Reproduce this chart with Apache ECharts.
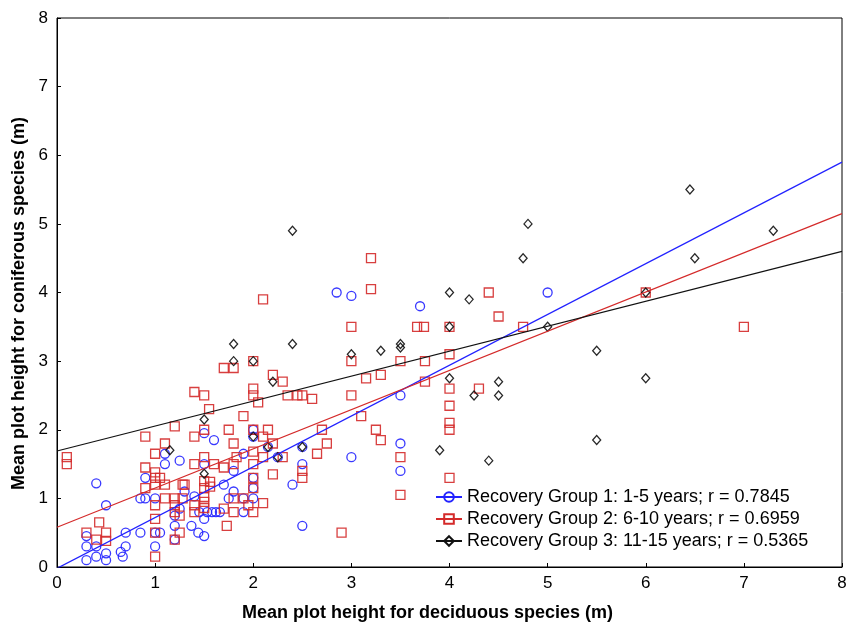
<!DOCTYPE html>
<html>
<head>
<meta charset="utf-8" />
<title>Recovery groups</title>
<style>
  html, body, #chart { margin: 0; width: 846px; height: 625px; overflow: hidden; background: #fff; }
</style>
</head>
<body>
<div id="chart"></div>
<script src="https://cdn.jsdelivr.net/npm/echarts@6/dist/echarts.min.js"></script>
<script>
// series names
var names = [
  'Recovery Group 1: 1-5 years; r = 0.7845',
  'Recovery Group 2: 6-10 years; r = 0.6959',
  'Recovery Group 3: 11-15 years; r = 0.5365'
];
// regression lines: [x, y] at both ends of the axis
var fit1 = [[0, -0.02], [8, 5.9]];
var fit2 = [[0, 0.58], [8, 5.15]];
var fit3 = [[0, 1.69], [8, 4.6]];

// group 1 (1-5 years)
var group1 = [
  [0.3,0.1],[0.3,0.3],[0.3,0.45],[0.4,0.15],[0.4,0.3],[0.4,1.22],[0.5,0.1],[0.5,0.2],
  [0.5,0.9],[0.65,0.22],[0.67,0.15],[0.7,0.3],[0.7,0.5],[0.85,0.5],[0.85,1.0],[0.9,1.0],
  [0.9,1.3],[1.0,1.0],[1.0,0.3],[1.0,0.5],[1.05,0.5],[1.1,1.5],[1.1,1.65],[1.2,0.75],
  [1.2,0.6],[1.2,0.4],[1.3,1.1],[1.4,1.03],[1.25,0.85],[1.37,0.6],[1.44,0.5],[1.5,0.45],
  [1.5,0.7],[1.45,0.8],[1.53,0.8],[1.58,0.8],[1.62,0.8],[1.66,0.8],[1.7,1.2],[1.8,1.4],
  [1.8,1.1],[1.75,1.0],[1.9,1.0],[1.9,0.8],[2.0,1.0],[2.0,1.3],[2.0,1.15],[2.4,1.2],
  [2.5,0.6],[2.5,1.5],[1.5,1.95],[1.6,1.85],[1.9,1.65],[2.0,2.0],[2.0,1.9],[2.15,1.75],
  [2.25,1.6],[2.5,1.75],[3.0,1.6],[3.5,1.8],[3.5,1.4],[3.5,2.5],[2.85,4.0],[3.0,3.95],
  [3.7,3.8],[5.0,4.0],[1.5,1.5],[1.25,1.55]
];
// group 2 (6-10 years)
var group2 = [
  [0.1,1.6],[0.1,1.5],[0.3,0.5],[0.4,0.4],[0.43,0.65],[0.5,0.5],[0.5,0.38],
  [0.9,1.9],[0.9,1.45],[0.9,1.15],[1.0,1.65],[1.0,1.38],[1.0,1.3],[1.05,1.3],[1.0,1.2],
  [1.1,1.2],[1.0,0.9],[1.0,0.7],[1.0,0.5],[1.0,0.15],[1.1,1.0],[1.1,1.8],[1.2,2.05],
  [1.2,1.0],[1.2,0.9],[1.2,0.8],[1.2,0.4],[1.25,0.75],[1.25,0.5],[1.3,1.2],
  [1.4,2.55],[1.5,2.5],[1.55,2.3],[1.4,1.9],[1.5,2.0],[1.75,2.0],[1.8,1.8],[1.5,1.6],
  [1.4,1.5],[1.6,1.5],[1.7,1.45],[1.8,1.5],[1.83,1.6],[1.5,1.25],[1.5,1.15],[1.5,1.02],
  [1.5,0.95],[1.5,0.86],[1.56,1.24],[1.56,1.17],[1.4,0.9],[1.4,0.8],[1.7,0.85],[1.8,0.8],
  [1.8,1.0],[1.9,1.0],[1.95,0.9],[2.0,0.8],[1.73,0.6],[1.28,1.2],[1.28,1.0],
  [1.7,2.9],[1.8,2.9],[2.0,3.0],[2.1,3.9],[2.2,2.8],[2.3,2.7],[2.0,2.6],[2.0,2.5],
  [2.05,2.4],[2.35,2.5],[2.45,2.5],[2.5,2.5],[2.6,2.45],[1.9,2.2],[2.0,2.0],[2.15,2.0],
  [2.1,1.9],[2.2,1.8],[2.0,1.68],[2.1,1.6],[2.3,1.6],[2.0,1.5],[2.0,1.3],[2.0,1.15],
  [2.1,0.93],[2.2,1.35],[2.5,1.4],[2.5,1.3],[2.7,2.0],[2.75,1.8],[2.65,1.65],[2.9,0.5],
  [3.0,3.5],[3.0,3.0],[3.0,2.5],[3.1,2.2],[3.15,2.75],[3.3,2.8],[3.25,2.0],[3.3,1.85],
  [3.2,4.5],[3.2,4.05],[3.5,3.0],[3.5,1.6],[3.5,1.05],[3.67,3.5],[3.74,3.5],[3.75,3.0],
  [3.75,2.7],[4.0,3.5],[4.0,3.1],[4.0,2.6],[4.0,2.35],[4.0,2.1],[4.0,2.0],[4.0,1.3],
  [4.3,2.6],[4.4,4.0],[4.5,3.65],[4.75,3.5],[6.0,4.0],[7.0,3.5]
];
// group 3 (11-15 years)
var group3 = [
  [1.15,1.7],[1.5,1.36],[1.5,2.15],[1.8,3.25],[1.8,3.0],[2.0,3.0],[2.0,1.9],[2.15,1.75],
  [2.2,2.7],[2.25,1.6],[2.4,3.25],[2.4,4.9],[2.5,1.75],[3.0,3.1],[3.3,3.15],[3.5,3.25],
  [3.5,3.2],[3.9,1.7],[4.0,4.0],[4.0,3.5],[4.0,2.75],[4.2,3.9],[4.25,2.5],[4.4,1.55],
  [4.5,2.7],[4.5,2.5],[4.75,4.5],[4.8,5.0],[5.0,3.5],[5.5,3.15],[5.5,1.85],[6.0,4.0],
  [6.0,2.75],[6.45,5.5],[6.5,4.5],[7.3,4.9]
];

var colors = ['#2222ff', '#d42a2a', '#111111'];
var symbols = ['circle', 'rect', 'diamond'];
var sizes = [9, 9, [8, 9]];
var groups = [group1, group2, group3];
var fits = [fit1, fit2, fit3];

var chart = echarts.init(document.getElementById('chart'));
var font = 'Liberation Sans, Arial, sans-serif';

var series = [];
// regression lines first so the legend picks their icon (line + marker)
for (var i = 0; i < 3; i++) {
  series.push({
    name: names[i],
    type: 'line',
    data: fits[i],
    symbol: symbols[i],
    symbolSize: 8,
    showSymbol: false,
    silent: true,
    z: 3,
    lineStyle: { color: colors[i], width: 1.2 },
    itemStyle: { color: 'transparent', borderColor: colors[i], borderWidth: 1.2 }
  });
}
for (var j = 0; j < 3; j++) {
  series.push({
    name: names[j],
    type: 'scatter',
    data: groups[j],
    symbol: symbols[j],
    symbolSize: sizes[j],
    z: 2,
    itemStyle: { color: 'transparent', borderColor: colors[j], borderWidth: 1.3, opacity: 0.9 }
  });
}

chart.setOption({
  animation: false,
  backgroundColor: '#fff',
  grid: {
    left: 57, right: 4, top: 18, bottom: 58,
    outerBoundsMode: 'none',
    show: true, borderColor: '#000', borderWidth: 1
  },
  legend: {
    data: names,
    orient: 'vertical',
    left: 430,
    top: 482,
    itemWidth: 26,
    itemHeight: 12,
    itemGap: 2,
    textStyle: { fontFamily: font, fontSize: 18, lineHeight: 20, color: '#000' }
  },
  xAxis: {
    type: 'value',
    min: 0, max: 8, interval: 1,
    name: 'Mean plot height for deciduous species (m)',
    nameLocation: 'middle',
    nameGap: 37,
    nameTextStyle: { fontFamily: font, fontSize: 18, fontWeight: 'bold', color: '#000', padding: [0, 44, 0, 0] },
    axisLine: { lineStyle: { color: '#000', width: 1 } },
    axisTick: { inside: true, length: 4, lineStyle: { color: '#000' } },
    axisLabel: { fontFamily: font, fontSize: 17, color: '#000', margin: 8 },
    splitLine: { show: false }
  },
  yAxis: {
    type: 'value',
    min: 0, max: 8, interval: 1,
    name: 'Mean plot height for coniferous species (m)',
    nameLocation: 'middle',
    nameGap: 28,
    nameTextStyle: { fontFamily: font, fontSize: 18, fontWeight: 'bold', color: '#000', padding: [0, 22, 0, 0] },
    axisLine: { lineStyle: { color: '#000', width: 1 } },
    axisTick: { inside: true, length: 4, lineStyle: { color: '#000' } },
    axisLabel: { fontFamily: font, fontSize: 17, color: '#000', margin: 9 },
    splitLine: { show: false }
  },
  series: series
});
</script>
</body>
</html>
